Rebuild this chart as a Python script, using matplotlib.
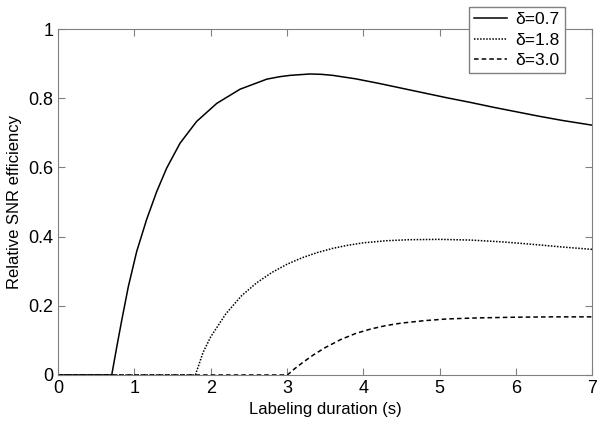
import numpy as np
import matplotlib
matplotlib.use("Agg")
import matplotlib.pyplot as plt

plt.rcParams['font.family'] = ['Liberation Sans', 'DejaVu Sans']

# values
x_07 = [0.0, 0.704, 0.769, 0.835, 0.922, 1.031, 1.162, 1.293, 1.424, 1.599, 1.817, 2.08,
        2.385, 2.735, 2.9, 3.04, 3.3, 3.45, 3.6, 3.9, 4.2, 4.5, 4.8, 5.1, 5.4, 5.7,
        6.0, 6.3, 6.6, 7.0]
y_07 = [0.0, 0.0, 0.080, 0.158, 0.256, 0.357, 0.450, 0.530, 0.598, 0.670, 0.733, 0.785,
        0.826, 0.855, 0.862, 0.866, 0.870, 0.869, 0.866, 0.856, 0.843, 0.829, 0.815,
        0.801, 0.788, 0.774, 0.761, 0.748, 0.736, 0.722]

x_18 = [0.0, 1.80, 1.9, 2.0, 2.2, 2.4, 2.6, 2.8, 3.0, 3.2, 3.4, 3.6, 3.8, 4.0, 4.3,
        4.6, 5.0, 5.4, 5.8, 6.2, 6.6, 7.0]
y_18 = [0.0, 0.0, 0.065, 0.110, 0.177, 0.228, 0.266, 0.296, 0.320, 0.339, 0.354, 0.366,
        0.375, 0.382, 0.388, 0.391, 0.392, 0.390, 0.385, 0.378, 0.370, 0.363]

x_30 = [0.0, 3.005, 3.1, 3.2, 3.346, 3.5, 3.7, 3.9, 4.1, 4.3, 4.5, 4.8, 5.1, 5.5, 6.0, 6.5, 7.0]
y_30 = [0.0, 0.0, 0.018, 0.035, 0.058, 0.079, 0.102, 0.120, 0.133, 0.143, 0.150, 0.157,
        0.162, 0.165, 0.167, 0.168, 0.168]

labels = ['δ=0.7', 'δ=1.8', 'δ=3.0']

fig = plt.figure(figsize=(6.01, 4.33), dpi=100)
ax = fig.add_axes([0.0965, 0.134, 0.889, 0.799])

ax.plot(x_07, y_07, color='black', lw=1.1, ls='-', label=labels[0])
ax.plot(x_18, y_18, color='black', lw=1.1, ls=(0, (1, 1)), label=labels[1])
ax.plot(x_30, y_30, color='black', lw=1.1, ls=(0, (3, 2)), label=labels[2])

ax.set_xlim(0, 7)
ax.set_ylim(0, 1)
ax.set_xticks(range(0, 8))
ax.set_yticks([0, 0.2, 0.4, 0.6, 0.8, 1])
ax.set_yticklabels(['0', '0.2', '0.4', '0.6', '0.8', '1'])
ax.tick_params(direction='in', top=True, right=True, length=5, color='#808080', labelsize=13)
for s in ax.spines.values():
    s.set_color('#808080')
ax.set_xlabel('Labeling duration (s)', fontsize=12)
ax.set_ylabel('Relative SNR efficiency', fontsize=12)

# legend sits partly above the axes, top-right corner at pixel (565, 7)
leg = ax.legend(loc='upper right', bbox_to_anchor=(565 / 601, 1 - 7 / 433),
                bbox_transform=fig.transFigure, borderaxespad=0,
                fontsize=12.5, fancybox=False, handlelength=1.9, handletextpad=0.5,
                labelspacing=0.3, borderpad=0.3, framealpha=1)
leg.get_frame().set_edgecolor('#808080')
leg.get_frame().set_linewidth(1.0)

fig.savefig('out.png', dpi=100)
